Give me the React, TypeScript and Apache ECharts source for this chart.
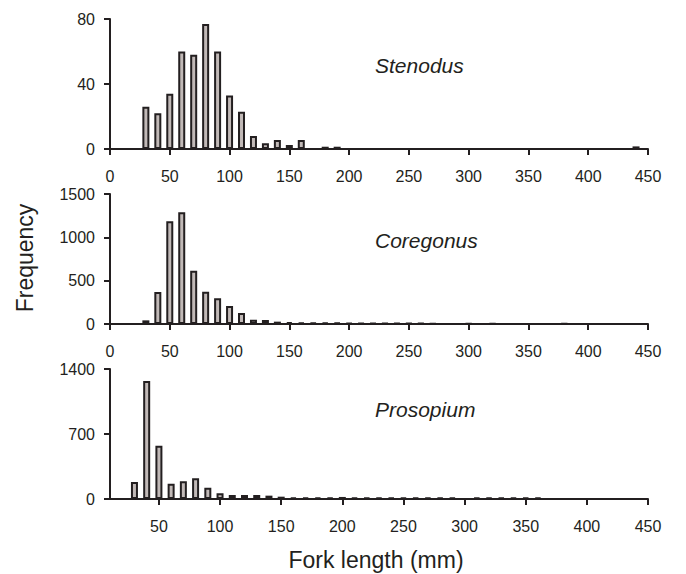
import React, { useEffect, useRef } from "react";
import * as echarts from "echarts";

const stenodusX = [30, 40, 50, 60, 70, 80, 90, 100, 110, 120, 130, 140, 150, 160, 180, 190, 440];
const stenodusY = [26, 22, 34, 60, 58, 77, 60, 33, 23, 8, 3.5, 5.5, 2.5, 5.5, 1.4, 1.4, 1.6];

const coregonusX = [30, 40, 50, 60, 70, 80, 90, 100, 110, 120, 130, 140, 150, 160, 170, 180, 190, 200, 210, 220, 230, 240, 250, 260, 270, 300, 320, 380];
const coregonusY = [42, 369, 1185, 1288, 615, 373, 296, 208, 127, 50, 46, 27, 22, 18, 15, 18, 15, 14, 12, 12, 10, 12, 10, 10, 8, 8, 8, 8];

const prosopiumX = [30, 40, 50, 60, 70, 80, 90, 100, 110, 120, 130, 140, 150, 160, 170, 180, 190, 200, 210, 220, 230, 240, 250, 260, 270, 280, 290, 310, 320, 330, 340, 350, 360];
const prosopiumY = [183, 1271, 574, 165, 190, 223, 122, 61, 43, 43, 43, 36, 25, 18, 18, 18, 16, 22, 16, 16, 16, 16, 16, 16, 16, 16, 16, 16, 16, 16, 16, 16, 16];

const speciesNames = ["Stenodus", "Coregonus", "Prosopium"];
const yMax = [80, 1500, 1400];
const yInterval = [40, 500, 700];
const xMin = [0, 0, 10];
const xTicks = [0, 50, 100, 150, 200, 250, 300, 350, 400, 450];
const xTicksBottom = [50, 100, 150, 200, 250, 300, 350, 400, 450];

const INK = "#231f20";
const FONT = "'Liberation Sans', Arial, Helvetica, sans-serif";

export default function App() {
  const ref = useRef<HTMLDivElement>(null);

  useEffect(() => {
    if (!ref.current) return;
    const chart = echarts.init(ref.current, null, { renderer: "svg" });
    const tops = [19, 194, 369];
    const seriesData = [
      stenodusX.map((x, i) => [x, stenodusY[i]]),
      coregonusX.map((x, i) => [x, coregonusY[i]]),
      prosopiumX.map((x, i) => [x, prosopiumY[i]]),
    ];
    const labelY = [67, 242, 411];

    const option: any = {
      animation: false,
      backgroundColor: "#ffffff",
      grid: tops.map((t) => ({ left: 110, right: 38, top: t, height: 130, containLabel: false })),
      xAxis: [0, 1, 2].map((i) => ({
        type: "value",
        gridIndex: i,
        min: xMin[i],
        max: 450,
        interval: 50,
        axisLine: { show: true, onZero: false, lineStyle: { color: INK, width: 2 } },
        axisTick: {
          show: true,
          inside: false,
          length: 6,
          lineStyle: { color: INK, width: 2 },
          customValues: i === 2 ? xTicksBottom : xTicks,
        },
        axisLabel: {
          color: INK,
          fontFamily: FONT,
          fontSize: 16,
          margin: 19,
          formatter: (v: number) => String(v),
          customValues: i === 2 ? xTicksBottom : xTicks,
        },
        splitLine: { show: false },
      })),
      yAxis: [0, 1, 2].map((i) => ({
        type: "value",
        gridIndex: i,
        min: 0,
        max: yMax[i],
        interval: yInterval[i],
        axisLine: { show: true, lineStyle: { color: INK, width: 2 } },
        axisTick: { show: true, inside: false, length: 6, lineStyle: { color: INK, width: 2 } },
        axisLabel: {
          color: INK,
          fontFamily: FONT,
          fontSize: 16,
          margin: 15,
          formatter: (v: number) => String(v),
        },
        splitLine: { show: false },
      })),
      series: [0, 1, 2].map((i) => ({
        type: "bar",
        name: speciesNames[i],
        xAxisIndex: i,
        yAxisIndex: i,
        data: seriesData[i],
        barWidth: 7,
        itemStyle: { color: "#c1b9b7", borderColor: INK, borderWidth: 2 },
      })),
      graphic: [
        ...speciesNames.map((n, i) => ({
          type: "text",
          left: 375,
          top: labelY[i] - 12,
          style: {
            text: n,
            fill: INK,
            font: `italic 21px ${FONT}`,
          },
        })),
        {
          type: "text",
          x: 25,
          y: 258,
          rotation: Math.PI / 2,
          style: {
            text: "Frequency",
            fill: INK,
            font: `23px ${FONT}`,
            align: "center",
            verticalAlign: "middle",
          },
        },
        {
          type: "text",
          x: 376,
          y: 560,
          style: {
            text: "Fork length (mm)",
            fill: INK,
            font: `23px ${FONT}`,
            align: "center",
            verticalAlign: "middle",
          },
        },
      ],
    };
    chart.setOption(option);
    return () => chart.dispose();
  }, []);

  return (
    <div
      ref={ref}
      style={{ position: "absolute", left: 0, top: 0, width: 686, height: 574, background: "#fff" }}
    />
  );
}
